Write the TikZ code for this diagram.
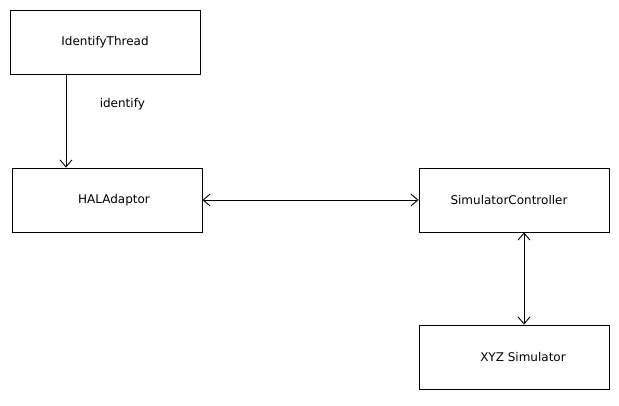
\documentclass[tikz,border=0pt]{standalone}
\usepackage{fontspec}
\setmainfont{DejaVu Sans}
\usetikzlibrary{arrows.meta}

\begin{document}
\begin{tikzpicture}[
            x = 1pt, y = 1pt,
            > = {Straight Barb[length=7pt,width=12pt]}, % open arrow head
            auto,
            node distance = 158pt, % distance between rows
            line width = 0.9pt,
            every node/.style = {font=\fontsize{12}{15}\selectfont},
            block/.style = {draw, rectangle, minimum width=190pt, minimum height=64pt, inner sep=0pt}
        ]
	\useasboundingbox (0,0) rectangle (619,-405);

	\node[block] (it) at (105,-42) {IdentifyThread};
	\node[block] (hal) [below of=it, xshift=2pt] {\hspace*{14pt}HALAdaptor};
	\node[block] (sc) [right of=hal, node distance=407pt] {SimulatorController\hspace*{10pt}};
	\node[block] (xyz) [below of=sc, node distance=157pt] {\hspace*{18pt}XYZ Simulator};

	\draw[->] ([xshift=-39pt]it.south) -- node[pos=0.32, right=30pt] (lbl) {identify} ([xshift=-39pt]it.south |- hal.north);
	\draw[<->] (hal) -- (sc);
	\draw[<->] ([xshift=10pt]sc.south) -- ([xshift=10pt]sc.south |- xyz.north);

\end{tikzpicture}
\end{document}
